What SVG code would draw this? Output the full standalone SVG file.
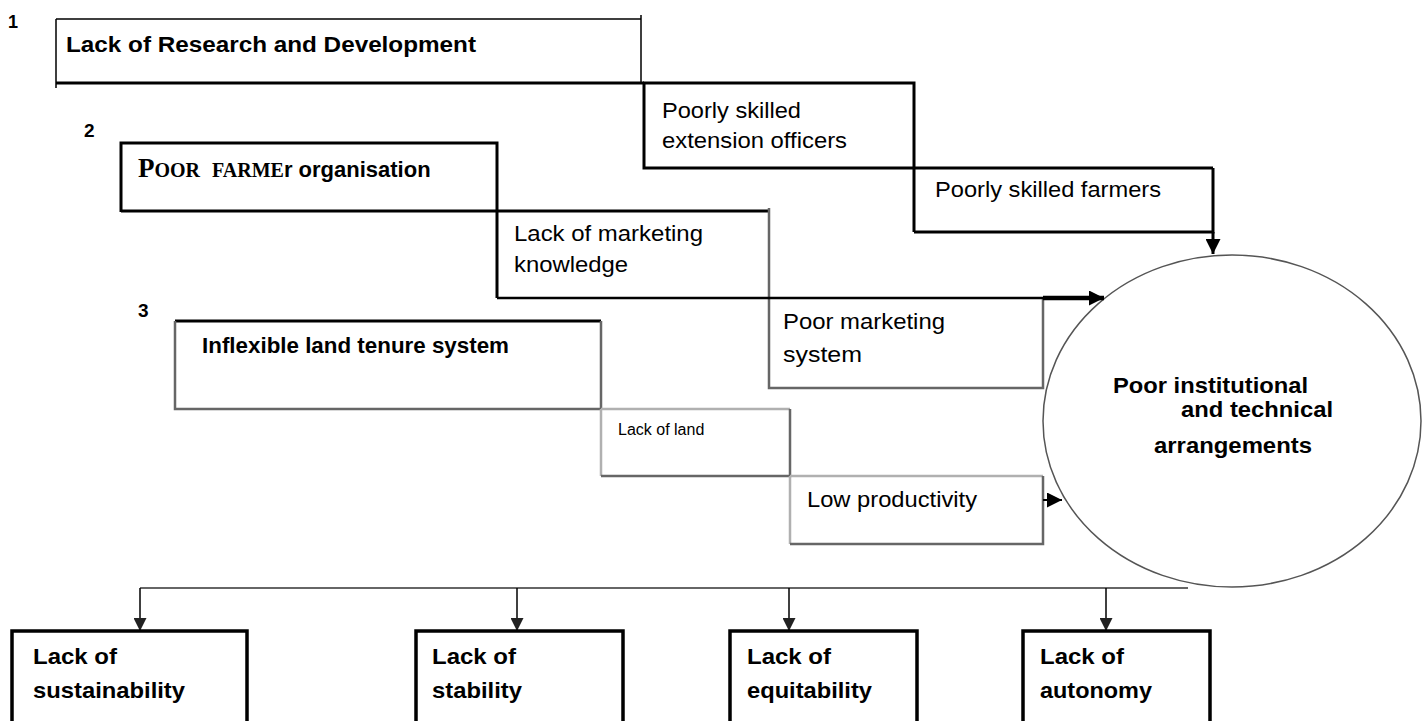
<svg xmlns="http://www.w3.org/2000/svg" width="1427" height="721" viewBox="0 0 1427 721">
<defs>
<style>
text{font-family:"Liberation Sans",Arial,sans-serif;fill:#000}
.b{font-weight:bold}
.r{font-size:22px}
.lb{font-size:22px;font-weight:bold}
.k{stroke:#000;fill:none}
.g{stroke:#666;fill:none}
.lg{stroke:#b0b0b0;fill:none}
.t1{stroke-width:1.5}
.t3{stroke-width:3}
.t2{stroke-width:2.5}
</style>
<marker id="arr" viewBox="0 0 10 10" refX="10" refY="5" markerWidth="15" markerHeight="15" markerUnits="userSpaceOnUse" orient="auto"><path d="M0,0 L10,5 L0,10 z" fill="#000"/></marker>
<marker id="arrs" viewBox="0 0 10 10" refX="10" refY="5" markerWidth="13" markerHeight="13" markerUnits="userSpaceOnUse" orient="auto"><path d="M0,0 L10,5 L0,10 z" fill="#222"/></marker>
</defs>
<rect width="1427" height="721" fill="#fff"/>

<g id="n1">
<text x="8" y="28" class="b" font-size="18">1</text>
<path class="k t1" d="M56,19 H641 M56,19 V88 M641,15 V83"/>
<path class="k t3" d="M56,83 H644"/>
<text x="66" y="52" class="lb" textLength="410" lengthAdjust="spacingAndGlyphs">Lack of Research and Development</text>
</g>

<g id="n_pseo">
<path class="k t3" d="M643,83 H914 V232 M644,83 V168 H1213"/>
<text x="662" y="118" class="r" textLength="139" lengthAdjust="spacingAndGlyphs">Poorly skilled</text>
<text x="662" y="148" class="r" textLength="185" lengthAdjust="spacingAndGlyphs">extension officers</text>
</g>

<g id="n_psf">
<path class="k t3" d="M1213,168 V232 H914"/>
<text x="935" y="197" class="r" textLength="226" lengthAdjust="spacingAndGlyphs">Poorly skilled farmers</text>
</g>

<g id="n2">
<text x="84" y="137" class="b" font-size="19">2</text>
<path class="k t3" d="M121,212 V143 H497 V298"/>
<path class="k t3" d="M121,211 H769"/>
<text x="138" y="177"><tspan font-family="'Liberation Serif',serif" font-weight="bold" font-size="27">P</tspan><tspan font-family="'Liberation Serif',serif" font-weight="bold" font-size="20">OOR</tspan><tspan dx="12" font-family="'Liberation Serif',serif" font-weight="bold" font-size="20">FARME</tspan><tspan class="lb">r organisation</tspan></text>
</g>

<g id="n_lmk">
<text x="514" y="241" class="r" textLength="189" lengthAdjust="spacingAndGlyphs">Lack of marketing</text>
<text x="514" y="272" class="r" textLength="114" lengthAdjust="spacingAndGlyphs">knowledge</text>
</g>

<g id="n_pms">
<path class="g t2" d="M769,208 V388 H1043 V298"/>
<text x="783" y="329" class="r" textLength="162" lengthAdjust="spacingAndGlyphs">Poor marketing</text>
<text x="783" y="362" class="r" textLength="79" lengthAdjust="spacingAndGlyphs">system</text>
</g>

<g id="n3">
<text x="138" y="317" class="b" font-size="19">3</text>
<path class="k t3" d="M175,321 H601"/>
<path class="g t2" d="M175,321 V409 H601 M601,321 V409"/>
<text x="202" y="353" class="lb" textLength="307" lengthAdjust="spacingAndGlyphs">Inflexible land tenure system</text>
</g>

<g id="n_lol">
<path class="lg t2" d="M601,409 H790 M601,409 V476"/>
<path class="g t2" d="M790,409 V476 H601"/>
<text x="618" y="435" font-size="16">Lack of land</text>
</g>

<g id="n_lp">
<path class="lg t2" d="M790,476 H1043 M790,476 V544"/>
<path class="g t2" d="M790,544 H1043 V476"/>
<text x="807" y="507" class="r" textLength="170" lengthAdjust="spacingAndGlyphs">Low productivity</text>
</g>

<g id="n_center">
<ellipse cx="1232" cy="421" rx="189" ry="166" fill="#fff" stroke="#555" stroke-width="1.5"/>
<text x="1113" y="393" class="lb" textLength="195" lengthAdjust="spacingAndGlyphs">Poor institutional</text>
<text x="1181" y="417" class="lb" textLength="152" lengthAdjust="spacingAndGlyphs">and technical</text>
<text x="1154" y="453" class="lb" textLength="158" lengthAdjust="spacingAndGlyphs">arrangements</text>
</g>

<g id="connectors">
<path class="k" stroke-width="3" d="M1213,232 V254" marker-end="url(#arr)"/>
<path class="k" stroke-width="2.5" d="M497,298 H1043"/>
<path class="k" stroke-width="4.5" d="M1043,298 H1104" marker-end="url(#arr)"/>
<path class="k" stroke-width="2" d="M1043,500 H1062" marker-end="url(#arr)"/>
<path class="g" stroke-width="2" d="M140,588 H1188"/>
<path class="k" stroke-width="1.5" d="M140,588 V631" marker-end="url(#arrs)"/>
<path class="k" stroke-width="1.5" d="M517,588 V631" marker-end="url(#arrs)"/>
<path class="k" stroke-width="1.5" d="M789,588 V631" marker-end="url(#arrs)"/>
<path class="k" stroke-width="1.5" d="M1106,588 V631" marker-end="url(#arrs)"/>
</g>

<g id="b1">
<path class="k" stroke-width="3.5" d="M12,725 V631 H247 V725"/>
<text x="33" y="664" class="lb" textLength="84" lengthAdjust="spacingAndGlyphs">Lack of</text>
<text x="33" y="698" class="lb" textLength="152" lengthAdjust="spacingAndGlyphs">sustainability</text>
</g>
<g id="b2">
<path class="k" stroke-width="3.5" d="M416,725 V631 H623 V725"/>
<text x="432" y="664" class="lb" textLength="84" lengthAdjust="spacingAndGlyphs">Lack of</text>
<text x="432" y="698" class="lb" textLength="90" lengthAdjust="spacingAndGlyphs">stability</text>
</g>
<g id="b3">
<path class="k" stroke-width="3.5" d="M730,725 V631 H917 V725"/>
<text x="747" y="664" class="lb" textLength="84" lengthAdjust="spacingAndGlyphs">Lack of</text>
<text x="747" y="698" class="lb" textLength="125" lengthAdjust="spacingAndGlyphs">equitability</text>
</g>
<g id="b4">
<path class="k" stroke-width="3.5" d="M1023,725 V631 H1210 V725"/>
<text x="1040" y="664" class="lb" textLength="84" lengthAdjust="spacingAndGlyphs">Lack of</text>
<text x="1040" y="698" class="lb" textLength="112" lengthAdjust="spacingAndGlyphs">autonomy</text>
</g>
</svg>
